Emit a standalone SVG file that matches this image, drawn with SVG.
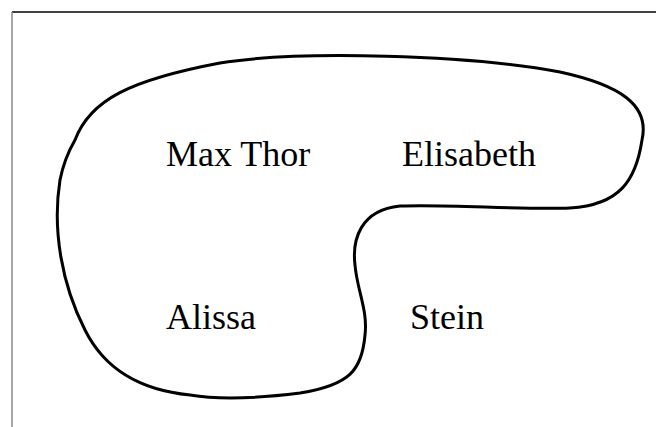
<svg xmlns="http://www.w3.org/2000/svg" width="656" height="427" viewBox="0 0 656 427">
  <style>
    .frame-top { stroke: #000; stroke-width: 1.5; }
    .frame-left { stroke: #888; stroke-width: 1.5; }
    .region { fill: none; stroke: #000; stroke-width: 3; stroke-linejoin: round; }
    .label { font-size: 36px; fill: #000; }
  </style>
  <rect width="656" height="427" fill="#fff"/>
  <!-- page frame -->
  <line class="frame-top" x1="12" y1="12" x2="656" y2="12"/>
  <line class="frame-left" x1="12" y1="12" x2="12" y2="427"/>
  <!-- enclosing region -->
  <g id="connectors">
    <path id="region" class="region" d="M 75,140 C 90,100 130,80 220,63 C 300,50 470,55 560,72 C 620,85 650,105 642,140 C 636,180 620,205 570,208 C 520,210 450,204 400,206 C 360,210 352,240 355,265 C 357,290 368,310 365,335 C 362,370 350,385 300,393 C 260,398 220,400 190,395 C 140,390 105,370 85,330 C 62,285 52,230 60,180 C 63,165 68,152 75,140 Z"/>
  </g>
  <g font-family="'Liberation Serif', 'DejaVu Serif', serif">
    <g id="max-thor"><text class="label" x="166" y="166">Max Thor</text></g>
    <g id="elisabeth"><text class="label" x="402" y="166">Elisabeth</text></g>
    <g id="alissa"><text class="label" x="166" y="329">Alissa</text></g>
    <g id="stein"><text class="label" x="410" y="329">Stein</text></g>
  </g>
</svg>
